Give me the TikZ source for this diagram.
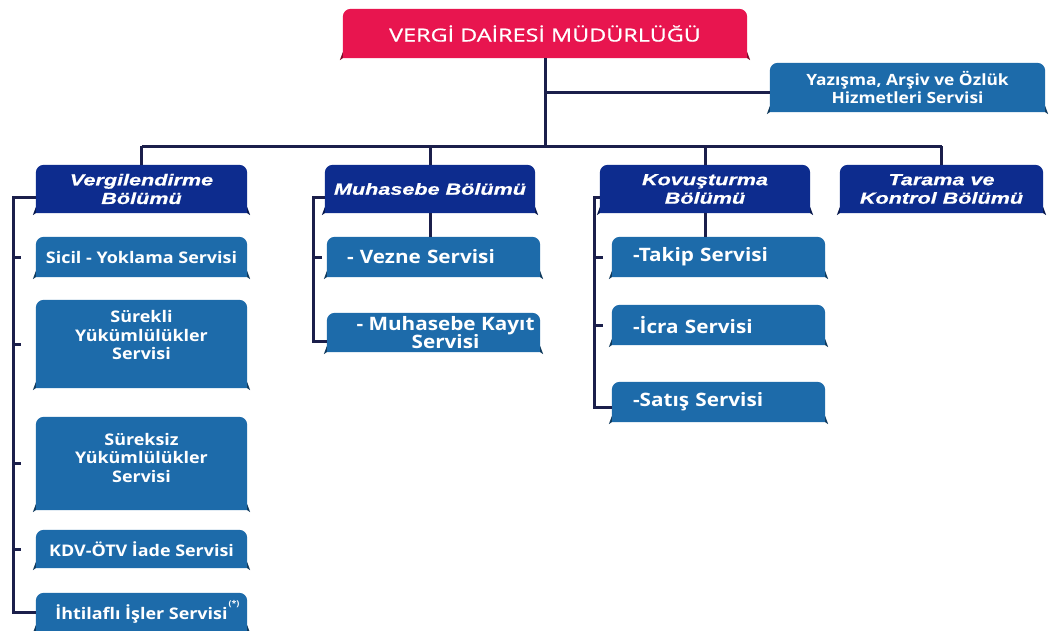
\documentclass[tikz,border=0pt]{standalone}
\usepackage{fontspec}
\setmainfont{Open Sans}
\newfontfamily\svcfont{Open Sans}[FakeStretch=1.12]
\newfontfamily\secfont{Liberation Sans}[FakeStretch=1.35,FakeBold=0.6]
\newfontfamily\topfont{Open Sans}[FakeStretch=1.3,FakeBold=0.8]
\usetikzlibrary{calc}
\pgfdeclarelayer{bg}
\pgfsetlayers{bg,main}
\definecolor{redC}{HTML}{E8154F}
\definecolor{navyC}{HTML}{0D2C8E}
\definecolor{svcC}{HTML}{1D6BAA}
\definecolor{lineC}{HTML}{1B1F4B}
\newcommand\bx[2]{%
 \begin{pgfonlayer}{bg}
 \fill[#2] (#1.south west) -- ([yshift=-8pt]#1.north west) arc[start angle=180,end angle=90,radius=8pt]
   -- ([xshift=-8pt]#1.north east) arc[start angle=90,end angle=0,radius=8pt] -- (#1.south east) -- cycle;
 \fill[#2!55!black] (#1.south west) -- ++(0,6) -- ++(-3,-8) -- cycle;
 \fill[#2!55!black] (#1.south east) -- ++(0,6) -- ++(3,-8) -- cycle;
 \end{pgfonlayer}}
\tikzset{
 x=1pt,y=1pt,
 base/.style={inner sep=0pt,text=white,align=center},
 topbox/.style={base,font=\topfont\fontsize{18}{20}\selectfont},
 secbox/.style={base,font=\secfont\bfseries\itshape\fontsize{16}{18.5}\selectfont},
 svcbox/.style={base,font=\svcfont\bfseries\fontsize{16}{18.5}\selectfont},
 bigsvc/.style={base,font=\svcfont\bfseries\fontsize{18.5}{18.5}\selectfont},
 ln/.style={line width=3pt,draw=lineC},
}
\begin{document}
\begin{tikzpicture}
\useasboundingbox (0,0) rectangle (1049,-630);
\begin{pgfonlayer}{bg}
\fill[white] (0,0) rectangle (1049,-630);
\end{pgfonlayer}
% nodes
\node[topbox,minimum width=404pt,minimum height=49pt] (top) at (545,-33.5) {VERGİ DAİRESİ MÜDÜRLÜĞÜ};
\node[svcbox,font=\svcfont\bfseries\fontsize{15.5}{18}\selectfont,minimum width=275pt,minimum height=49pt] (yaz) at (907.5,-87.5) {Yazışma, Arşiv ve Özlük\\Hizmetleri Servisi};
\node[secbox,minimum width=211pt,minimum height=48pt] (verg) at (141.5,-189) {Vergilendirme\\Bölümü};
\node[secbox,minimum width=210pt,minimum height=48pt] (muh) at (430,-189) {Muhasebe Bölümü};
\node[secbox,minimum width=210pt,minimum height=48pt] (kov) at (705,-189) {Kovuşturma\\Bölümü};
\node[secbox,minimum width=203pt,minimum height=48pt] (tar) at (941.5,-189) {Tarama ve\\Kontrol Bölümü};
\node[svcbox,minimum width=211pt,minimum height=40pt] (sicil) at (141.5,-257) {Sicil - Yoklama Servisi};
\node[svcbox,minimum width=211pt,minimum height=88pt,label={[svcbox,yshift=9pt]center:Sürekli\\Yükümlülükler\\Servisi}] (surekli) at (141.5,-344) {};
\node[svcbox,minimum width=211pt,minimum height=93pt,label={[svcbox,yshift=6pt]center:Süreksiz\\Yükümlülükler\\Servisi}] (sureksiz) at (141.5,-463.5) {};
\node[svcbox,minimum width=211pt,minimum height=38pt] (kdv) at (141.5,-549) {KDV-ÖTV İade Servisi};
\node[svcbox,minimum width=211pt,minimum height=38pt] (iht) at (141.5,-612) {İhtilaflı İşler Servisi\rlap{\hspace{1pt}\raisebox{13pt}{\fontsize{8}{8}\selectfont(*)}}};
\node[bigsvc,align=left,text width=173pt,inner xsep=20pt,minimum height=40pt] (vezne) at (433.5,-257) {- Vezne Servisi};
\node[bigsvc,minimum width=213pt,minimum height=39pt,label={[bigsvc,xshift=12pt]center:- Muhasebe Kayıt\\Servisi}] (kayit) at (433.5,-332.5) {};
\node[bigsvc,align=left,text width=171pt,inner xsep=21pt,minimum height=40pt] (takip) at (718.5,-257) {-Takip Servisi};
\node[bigsvc,align=left,text width=171pt,inner xsep=21pt,minimum height=40pt] (icra) at (718.5,-325) {-İcra Servisi};
\node[bigsvc,align=left,text width=171pt,inner xsep=21pt,minimum height=40pt] (satis) at (718.5,-402) {-Satış Servisi};
% backgrounds
\bx{top}{redC}
\bx{yaz}{svcC}
\bx{verg}{navyC}\bx{muh}{navyC}\bx{kov}{navyC}\bx{tar}{navyC}
\bx{sicil}{svcC}\bx{surekli}{svcC}\bx{sureksiz}{svcC}\bx{kdv}{svcC}\bx{iht}{svcC}
\bx{vezne}{svcC}\bx{kayit}{svcC}
\bx{takip}{svcC}\bx{icra}{svcC}\bx{satis}{svcC}
% connectors
\coordinate (bus) at (0,-146);
\coordinate (yb) at (0,-92);
\draw[ln] (top.south) -- (top.south |- bus);
\draw[ln] (top.south |- yb) -- (yaz.west |- yb);
\draw[ln] (verg.north |- bus) -- (tar.north |- bus);
\draw[ln] (verg.north |- bus) -- (verg.north);
\draw[ln] (muh.north |- bus) -- (muh.north);
\draw[ln] (kov.north |- bus) -- (kov.north);
\draw[ln] (tar.north |- bus) -- (tar.north);
% Vergilendirme column
\draw[ln] ([yshift=-8pt]verg.west) -| ([xshift=-22pt]iht.west) -- (iht.west);
\foreach \n in {sicil,surekli,sureksiz,kdv}{\draw[ln] ([xshift=-23.5pt]\n.west) -- ++(9pt,0);}
% Muhasebe column
\draw[ln] ([yshift=-8pt]muh.west) -| ([xshift=-13pt,yshift=-9pt]kayit.west) -- ([yshift=-9pt]kayit.west);
\draw[ln] ([xshift=-14.5pt]vezne.west) -- ++(10pt,0);
\draw[ln] (muh.south) -- (muh.south |- vezne.north);
% Kovusturma column
\draw[ln] ([yshift=-8pt]kov.west) -| ([xshift=-17pt,yshift=-5pt]satis.west) -- ([yshift=-5pt]satis.west);
\foreach \n in {takip,icra}{\draw[ln] ([xshift=-18.5pt]\n.west) -- ++(10pt,0);}
\draw[ln] (kov.south) -- (kov.south |- takip.north);
\end{tikzpicture}
\end{document}
